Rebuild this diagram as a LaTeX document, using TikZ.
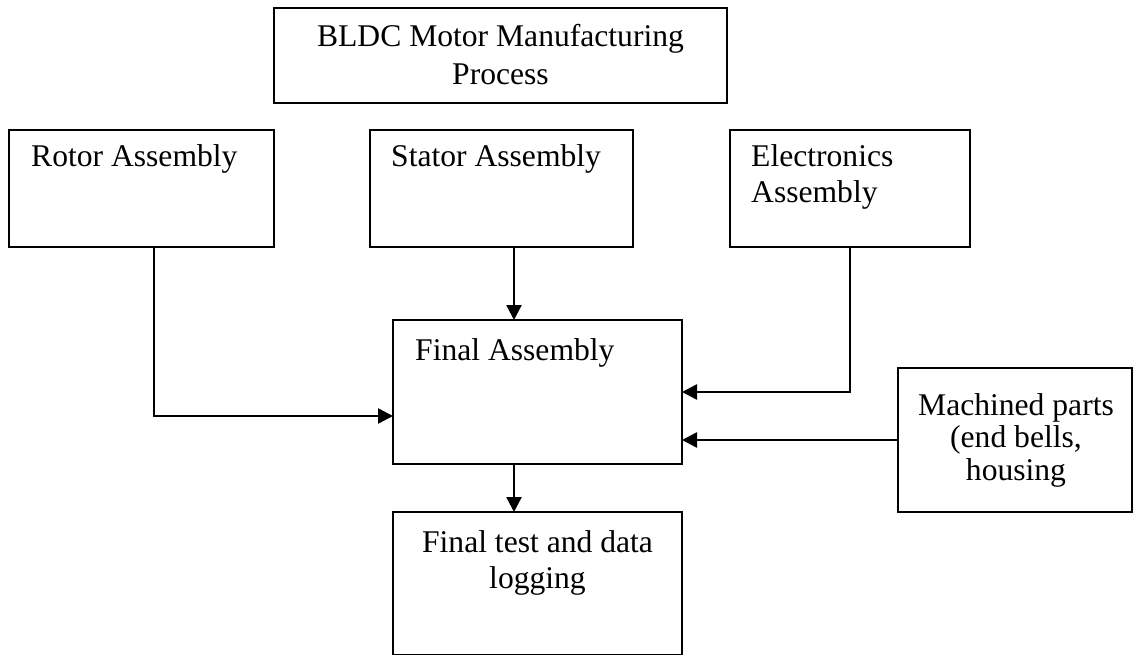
\documentclass[tikz,border=0pt]{standalone}
\usepackage{fontspec}
\setmainfont{Liberation Serif}
\usetikzlibrary{arrows.meta,calc}
\begin{document}
\begin{tikzpicture}[x=1pt,y=-1pt,
  box/.style={draw=black,line width=2.4pt,rectangle,anchor=north west,inner sep=0pt,outer sep=0pt},
  txt/.style={inner sep=0pt,font=\fontsize{31.6}{37}\selectfont},
  arr/.style={draw=black,line width=2.4pt,-{Triangle[length=15pt,width=15pt]}}]
\useasboundingbox (0,0) rectangle (1133,655);
% boxes
\node[box,minimum width=453pt,minimum height=95pt] (title) at (274,8) {};
\node[box,minimum width=265pt,minimum height=117pt] (rotor) at (9,130) {};
\node[box,minimum width=263pt,minimum height=117pt] (stator) at (370,130) {};
\node[box,minimum width=240pt,minimum height=117pt] (elec) at (730,130) {};
\node[box,minimum width=289pt,minimum height=144pt] (final) at (393,320) {};
\node[box,minimum width=234pt,minimum height=144pt] (mach) at (898,368) {};
\node[box,minimum width=289pt,minimum height=143pt] (test) at (393,512) {};
% texts
\node[txt,anchor=base] (title1) at (500.5,47) {BLDC Motor Manufacturing};
\node[txt,anchor=base] (title2) at (500.5,85) {Process};
\node[txt,anchor=base west] (rotort) at (31,167) {Rotor Assembly};
\node[txt,anchor=base west] (statort) at (391,167) {Stator Assembly};
\node[txt,anchor=base west] (elect1) at (751,167) {Electronics};
\node[txt,anchor=base west] (elect2) at (751,203) {Assembly};
\node[txt,anchor=base west] (finalt) at (415,360) {Final Assembly};
\node[txt,anchor=base] (mach1) at (1016,415) {Machined parts};
\node[txt,anchor=base] (mach2) at (1016,447) {(end bells,};
\node[txt,anchor=base] (mach3) at (1016,480) {housing};
\node[txt,anchor=base] (test1) at (537.5,552) {Final test and data};
\node[txt,anchor=base] (test2) at (537.5,588) {logging};
% connectors
\coordinate (sIn) at ([xshift=-23.5pt]final.north);
\coordinate (rOut) at ([xshift=12.5pt]rotor.south);
\coordinate (rIn) at ([yshift=-24pt]final.west);
\draw[arr] (stator.south -| sIn) -- (sIn);
\draw[arr] (rOut) |- (rIn);
\draw[arr] (elec.south) |- (final.east);
\draw[arr] (mach.west) -- (mach.west -| final.east);
\draw[arr] (final.south -| sIn) -- (test.north -| sIn);
\end{tikzpicture}
\end{document}
